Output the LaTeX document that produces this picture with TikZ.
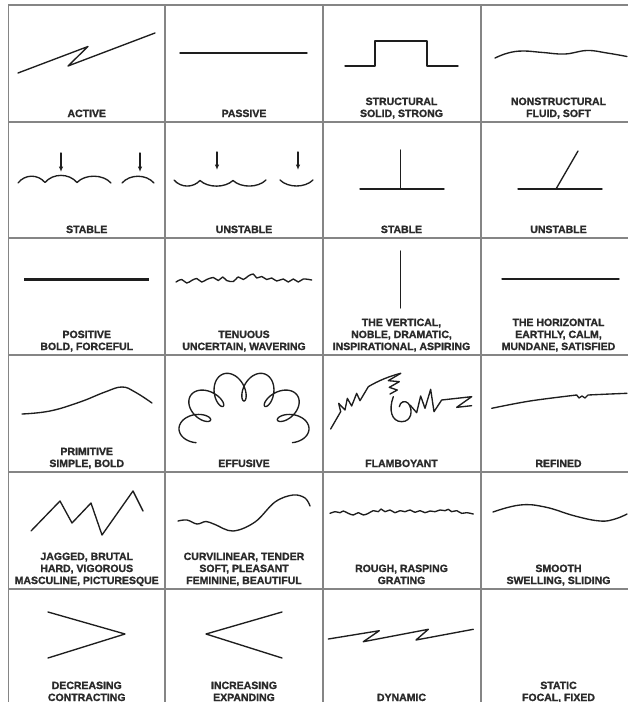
\documentclass[tikz,border=0pt]{standalone}
\usepackage{fontspec}
\setmainfont{Liberation Sans}[BoldFeatures={FakeBold=1.4}]
\usetikzlibrary{arrows.meta}
\definecolor{gridc}{HTML}{858585}
\definecolor{ink}{HTML}{1E1E1E}
\definecolor{txt}{HTML}{2A2A2A}
\newcommand\lbl[1]{{\setlength\tabcolsep{0pt}\begin{tabular}[b]{c}#1\end{tabular}}}
\begin{document}
\begin{tikzpicture}[x=1pt,y=-1pt,
  gridline/.style={draw=gridc,line width=1.8pt},
  ink/.style={draw=ink,line width=1.35pt,line cap=round,line join=round},
  arr/.style={ink,-{Latex[length=5.5pt,width=4.5pt]}},
  lab/.style={anchor=base,inner sep=0pt,text=txt,font=\fontsize{10.5}{12}\selectfont\bfseries}]
\useasboundingbox (0,0) rectangle (627,702);
\fill[white] (0,0) rectangle (627,702);
% grid
\draw[gridline] (8.5,710) -- (8.5,5) -- (640,5);
\foreach \x in {165,323,481} \draw[gridline] (\x,5) -- (\x,710);
\foreach \y in {122,238,355,472,589} \draw[gridline] (8.5,\y) -- (640,\y);

% ---------- labels ----------
\node[lab] (l11) at (86.75,117) {\lbl{ACTIVE}};
\node[lab] (l12) at (244,117) {\lbl{PASSIVE}};
\node[lab] (l13) at (401.5,117) {\lbl{STRUCTURAL\\SOLID, STRONG}};
\node[lab] (l14) at (558.5,117) {\lbl{NONSTRUCTURAL\\FLUID, SOFT}};
\node[lab] (l21) at (86.75,233) {\lbl{STABLE}};
\node[lab] (l22) at (244,233) {\lbl{UNSTABLE}};
\node[lab] (l23) at (401.5,233) {\lbl{STABLE}};
\node[lab] (l24) at (558.5,233) {\lbl{UNSTABLE}};
\node[lab] (l31) at (86.75,350) {\lbl{POSITIVE\\BOLD, FORCEFUL}};
\node[lab] (l32) at (244,350) {\lbl{TENUOUS\\UNCERTAIN, WAVERING}};
\node[lab] (l33) at (401.5,350) {\lbl{THE VERTICAL,\\NOBLE, DRAMATIC,\\INSPIRATIONAL, ASPIRING}};
\node[lab] (l34) at (558.5,350) {\lbl{THE HORIZONTAL\\EARTHLY, CALM,\\MUNDANE, SATISFIED}};
\node[lab] (l41) at (86.75,467) {\lbl{PRIMITIVE\\SIMPLE, BOLD}};
\node[lab] (l42) at (244,467) {\lbl{EFFUSIVE}};
\node[lab] (l43) at (401.5,467) {\lbl{FLAMBOYANT}};
\node[lab] (l44) at (558.5,467) {\lbl{REFINED}};
\node[lab] (l51) at (86.75,584) {\lbl{JAGGED, BRUTAL\\HARD, VIGOROUS\\MASCULINE, PICTURESQUE}};
\node[lab] (l52) at (244,584) {\lbl{CURVILINEAR, TENDER\\SOFT, PLEASANT\\FEMININE, BEAUTIFUL}};
\node[lab] (l53) at (401.5,584) {\lbl{ROUGH, RASPING\\GRATING}};
\node[lab] (l54) at (558.5,584) {\lbl{SMOOTH\\SWELLING, SLIDING}};
\node[lab] (l61) at (86.75,701) {\lbl{DECREASING\\CONTRACTING}};
\node[lab] (l62) at (244,701) {\lbl{INCREASING\\EXPANDING}};
\node[lab] (l63) at (401.5,701) {\lbl{DYNAMIC}};
\node[lab] (l64) at (558.5,701) {\lbl{STATIC\\FOCAL, FIXED}};

% ---------- row 1 ----------
\draw[ink] (18,73) -- (88,46.5) -- (68,66) -- (155,33);
\draw[ink] (180,53) -- (307,53);
\draw[ink] (345,66) -- (375,66) -- (375,41) -- (427,41) -- (427,66) -- (458,66);
\draw[ink] plot[smooth,tension=0.7] coordinates {(495,58) (508,53) (523,51) (543,52.5) (565,54) (587,50.5) (607,53) (627,56.5)};

% ---------- row 2 ----------
\draw[arr] (61,153) -- (61,172);
\draw[arr] (140,153) -- (140,172);
\draw[ink] (18,183) .. controls (25,174) and (38,174) .. (45,182.5)
  .. controls (53,173) and (69,173) .. (77,182.5)
  .. controls (85,174) and (103,174) .. (111,183);
\draw[ink] (122,183) .. controls (130,174) and (146,174) .. (154,183);
\draw[arr] (217,152) -- (217,170);
\draw[arr] (298,152) -- (298,170);
\draw[ink] (174,180) .. controls (181,188) and (193,188) .. (200,180.5)
  .. controls (208,188) and (225,188) .. (233,180.5)
  .. controls (241,188) and (258,188) .. (266,180);
\draw[ink] (280,180) .. controls (288,188) and (305,188) .. (313,180);
\draw[ink] (360,189) -- (444,189);
\draw[ink] (400.7,150) -- (400.7,189);
\draw[ink] (518,189) -- (602,189);
\draw[ink] (556,189) -- (578,151);

% ---------- row 3 ----------
\draw[ink,line width=3pt,line cap=butt] (24,279) -- (149,279);
\draw[ink] plot[smooth,tension=0.55] coordinates {(176,282) (181.7,279.5) (186.7,283) (191.7,280.5) (196.7,278.5) (201.7,282) (206.7,279.5) (213.3,277.5) (218.3,280.5) (222.7,277) (226.7,280.5) (233.3,281.5) (238.3,277) (243.3,279.5) (248.3,276) (253.3,274) (256.7,278) (261.7,276.5) (266.7,279.5) (271.7,278) (276.7,281) (283.3,279) (288.3,282) (293.3,279) (298.3,282) (303.3,279) (311.7,280)};
\draw[ink] (400.7,251) -- (400.7,308);
\draw[ink] (502,279) -- (619,279);

% ---------- row 4 ----------
\draw[ink] plot[smooth,tension=0.7] coordinates {(22,414) (50,411) (80,402) (105,392) (122,387) (135,392) (152,403)};
\draw[ink] plot[domain=0:1,samples=700,smooth,variable=\t]
  ({244+50*cos(190-200*\t)+15*cos(-90+1980*\t)*cos(190-200*\t)+7.5*sin(-90+1980*\t)*sin(190-200*\t)},
   {428-(42*sin(190-200*\t)+15*cos(-90+1980*\t)*sin(190-200*\t)-7.5*sin(-90+1980*\t)*cos(190-200*\t))});
\begin{scope}[shift={(310,230)},scale=1/3]
\draw[ink] (62,597) -- (92,545) -- (86,520) -- (105,540) -- (112,505) -- (125,528) -- (140,490) -- (150,512) -- (175,470) .. controls (205,452) and (240,438) .. (272,430);
\draw[ink] (272,430) -- (235,452) -- (268,455) -- (238,472) -- (262,480) -- (240,492);
\draw[ink] (250,500) .. controls (235,540) and (245,575) .. (275,575) .. controls (305,575) and (310,540) .. (295,520) .. controls (285,510) and (270,515) .. (268,530);
\draw[ink] (300,525) -- (320,548) -- (332,498) -- (345,535) -- (362,478) -- (372,545) -- (395,510) -- (485,500) -- (440,532) -- (485,527);
\end{scope}
\draw[ink] plot[smooth,tension=0.6] coordinates {(491.7,408.3) (530,401) (576.7,395)} -- (579,398) -- (582,396) -- (585,398) -- (588,395) plot[smooth] coordinates {(588,395) (610,394) (627,393.3)};

% ---------- row 5 ----------
\draw[ink] (31,531) -- (60,501) -- (72,523) -- (91,503) -- (102,535) -- (133,491) -- (143,511);
\draw[ink] plot[smooth,tension=0.6] coordinates {(178,521) (187,520) (197,524) (206,521.5) (215,524.5) (233,531) (255,522) (275,502) (293,495) (305,498) (310,506)};
\begin{scope}[shift={(310,460)},scale=1/3]
\draw[ink] plot[smooth,tension=0.5] coordinates {(60,160) (75,155) (90,158) (100,153) (115,160) (130,165) (145,158) (160,165) (175,160) (190,152) (205,155) (213,147) (225,155) (240,150) (255,158) (270,152) (285,155) (300,150) (315,157) (330,152) (345,158) (360,153) (375,155) (390,150) (405,152) (415,148) (425,155) (440,152) (455,160) (470,158) (490,162)};
\end{scope}
\draw[ink] plot[smooth,tension=0.7] coordinates {(493,512) (520,505) (545,507) (575,516) (600,521) (615,519) (627,514)};

% ---------- row 6 ----------
\draw[ink] (48,612) -- (125,634) -- (48,658);
\draw[ink] (282,612) -- (206,634) -- (282,658);
\draw[ink] (328.3,639) -- (379.3,630.7) -- (363.3,641.7) -- (428.3,629.3) -- (416,640) -- (473.3,629.3);
\end{tikzpicture}
\end{document}
